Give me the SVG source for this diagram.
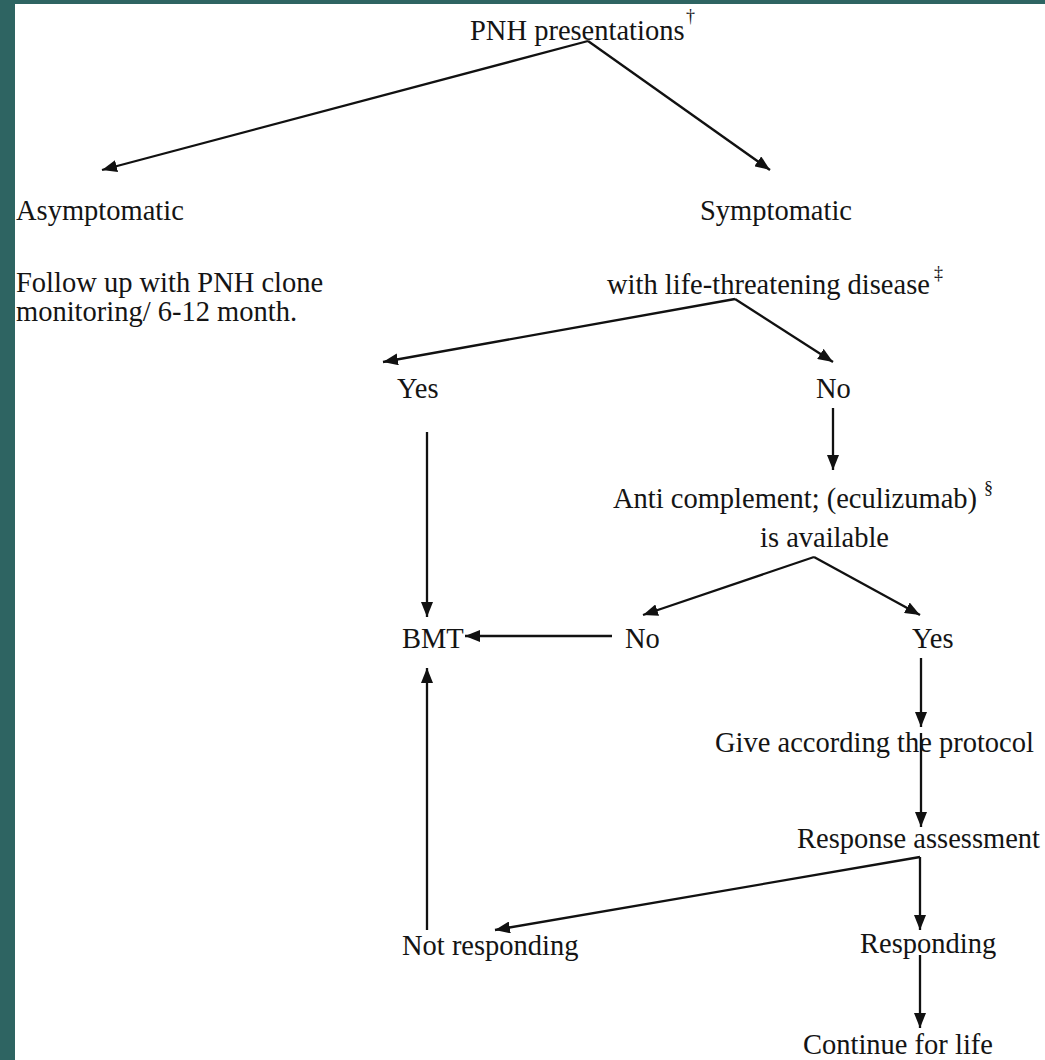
<svg xmlns="http://www.w3.org/2000/svg" width="1045" height="1060" viewBox="0 0 1045 1060">
<style>
.t{font-family:"Liberation Serif","Times New Roman",serif;font-size:28.5px;fill:#141414}
.sup{font-family:"Liberation Serif","Times New Roman",serif;font-size:18px;fill:#141414}
.c{stroke:#111;stroke-width:2.3;fill:none;marker-end:url(#ah)}
</style>
<defs>
<marker id="ah" markerUnits="userSpaceOnUse" markerWidth="16" markerHeight="12" refX="15" refY="6" orient="auto">
<path d="M0,0 L15,6 L0,12 z" fill="#111"/>
</marker>
</defs>
<rect x="0" y="0" width="1045" height="1060" fill="#ffffff"/>
<rect x="0" y="0" width="1045" height="4" fill="#2e6462"/>
<rect x="0" y="0" width="15" height="1060" fill="#2e6462"/>

<g id="connectors">
<line class="c" x1="588" y1="41" x2="102" y2="170"/>
<line class="c" x1="588" y1="41" x2="770" y2="170"/>
<line class="c" x1="735" y1="299" x2="383" y2="362"/>
<line class="c" x1="735" y1="299" x2="833" y2="362"/>
<line class="c" x1="833" y1="408" x2="833" y2="470"/>
<line class="c" x1="814" y1="557" x2="643" y2="615"/>
<line class="c" x1="814" y1="557" x2="920" y2="615"/>
<line class="c" x1="612" y1="636" x2="465" y2="636"/>
<line class="c" x1="427" y1="432" x2="427" y2="617"/>
<line class="c" x1="427" y1="930" x2="427" y2="668"/>
<line class="c" x1="921" y1="658" x2="921" y2="727"/>
<line class="c" x1="921" y1="733" x2="921" y2="827"/>
<line class="c" x1="920" y1="857" x2="495" y2="930"/>
<line class="c" x1="920" y1="857" x2="920" y2="930"/>
<line class="c" x1="920" y1="955" x2="920" y2="1028"/>
</g>

<g id="pnh"><text class="t" x="470" y="40">PNH presentations</text><text class="sup" x="686" y="22">†</text></g>
<g id="asymptomatic"><text class="t" x="16" y="220">Asymptomatic</text></g>
<g id="followup"><text class="t" x="16" y="292">Follow up with PNH clone</text><text class="t" x="16" y="321">monitoring/ 6-12 month.</text></g>
<g id="symptomatic"><text class="t" x="700" y="220">Symptomatic</text></g>
<g id="lifethreat"><text class="t" x="607" y="294">with life-threatening disease</text><text class="sup" x="934" y="279">‡</text></g>
<g id="yes1"><text class="t" x="397" y="398">Yes</text></g>
<g id="no1"><text class="t" x="816" y="398">No</text></g>
<g id="anti"><text class="t" x="613" y="508">Anti complement; (eculizumab) </text><text class="sup" x="984" y="494">§</text><text class="t" x="760" y="547">is available</text></g>
<g id="bmt"><text class="t" x="402" y="648">BMT</text></g>
<g id="no2"><text class="t" x="625" y="648">No</text></g>
<g id="yes2"><text class="t" x="912" y="648">Yes</text></g>
<g id="give"><text class="t" x="715" y="752">Give according the protocol</text></g>
<g id="response"><text class="t" x="797" y="848">Response assessment</text></g>
<g id="notresp"><text class="t" x="402" y="955">Not responding</text></g>
<g id="resp"><text class="t" x="860" y="953">Responding</text></g>
<g id="continue"><text class="t" x="803" y="1054">Continue for life</text></g>
</svg>
